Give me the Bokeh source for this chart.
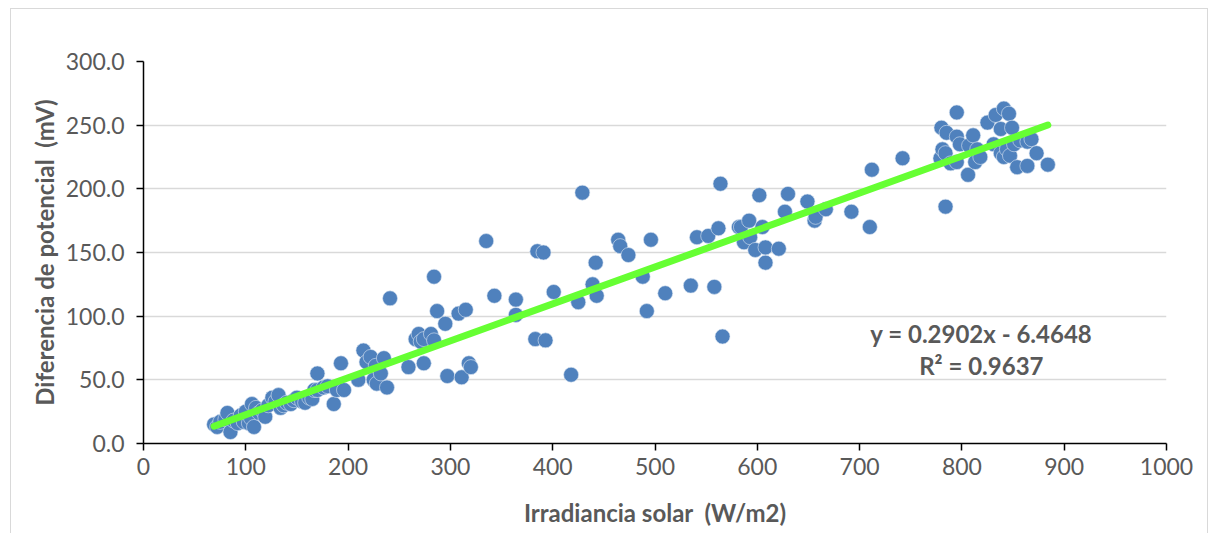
from bokeh.plotting import figure
from bokeh.models import ColumnDataSource, FixedTicker, PrintfTickFormatter, Range1d, InlineStyleSheet
from bokeh.core.properties import value
from bokeh.embed import file_html
from bokeh.resources import INLINE

irradiancia = [69, 72, 75, 80, 82, 85, 88, 92, 95, 98, 100, 103, 105, 106, 108, 110, 113, 116, 119, 122,
               126, 129, 132, 134, 137, 140, 144, 147, 150, 155, 158, 162, 165, 167, 170, 170, 176, 180, 186, 189,
               193, 196, 210, 215, 218, 222, 225, 227, 228, 232, 235, 238, 241, 259, 266, 269, 271, 274, 274, 281,
               284, 284, 287, 295, 297, 308, 311, 315, 318, 320, 335, 343, 364, 364, 383, 385, 391, 393, 401, 418,
               425, 429, 439, 442, 443, 464, 466, 474, 488, 492, 496, 510, 535, 541, 552, 558, 562, 564, 566, 582,
               584, 587, 592, 593, 598, 602, 605, 608, 608, 621, 627, 630, 649, 656, 657, 667, 692, 710, 712, 742,
               779, 780, 781, 784, 784, 785, 789, 795, 795, 795, 798, 806, 807, 811, 813, 815, 818, 825, 831, 833,
               838, 838, 841, 841, 844, 846, 847, 849, 851, 854, 857, 864, 864, 868, 873, 884]
potencial = [15, 13, 17, 19, 24, 9, 18, 16, 22, 17, 25, 16, 20, 31, 13, 28, 24, 26, 21, 30,
             36, 33, 38, 28, 30, 32, 31, 34, 36, 33, 32, 36, 35, 42, 42, 55, 44, 45, 31, 42,
             63, 42, 50, 73, 64, 68, 50, 61, 47, 55, 67, 44, 114, 60, 82, 86, 80, 63, 82, 86,
             81, 131, 104, 94, 53, 102, 52, 105, 63, 60, 159, 116, 113, 101, 82, 151, 150, 81, 119, 54,
             111, 197, 125, 142, 116, 160, 155, 148, 131, 104, 160, 118, 124, 162, 163, 123, 169, 204, 84, 170,
             170, 158, 175, 162, 152, 195, 170, 154, 142, 153, 182, 196, 190, 175, 178, 184, 182, 170, 215, 224,
             224, 248, 231, 228, 186, 244, 220, 260, 241, 221, 235, 211, 234, 242, 221, 231, 225, 252, 235, 258,
             247, 228, 225, 263, 231, 259, 226, 248, 235, 217, 238, 237, 218, 239, 228, 219]

pendiente = 0.2902
intercepto = -6.4648
r2 = 0.9637

x_ticks = [0, 100, 200, 300, 400, 500, 600, 700, 800, 900, 1000]
y_ticks = [0, 50, 100, 150, 200, 250, 300]

x_label = "Irradiancia solar\u00a0\u00a0(W/m2)"
y_label = "Diferencia de potencial\u00a0\u00a0(mV)"

border_css = InlineStyleSheet(css="""
:host::after {
  content: '';
  position: absolute;
  left: 10px; top: 8px; right: 9px; bottom: -20px;
  border: 1px solid #D9D9D9;
  pointer-events: none;
}
""")

p = figure(width=1217, height=533, output_backend="svg", toolbar_location=None,
           x_range=Range1d(0, 1000), y_range=Range1d(0, 300),
           min_border_left=143, min_border_right=51, min_border_top=61, min_border_bottom=90,
           stylesheets=[border_css])
p.outline_line_color = None
p.background_fill_color = "white"
p.border_fill_color = "white"

p.xgrid.grid_line_color = None
p.ygrid.grid_line_color = "#D9D9D9"
p.ygrid.grid_line_width = 1.3
p.ygrid.ticker = FixedTicker(ticks=y_ticks)

for ax in (p.xaxis, p.yaxis):
    ax.axis_line_color = "black"
    ax.axis_line_width = 1.5
    ax.major_tick_line_color = "black"
    ax.major_tick_line_width = 1.5
    ax.major_tick_out = 7
    ax.major_tick_in = 0
    ax.minor_tick_line_color = None
    ax.major_label_text_font = "Lato"
    ax.major_label_text_font_size = "23px"
    ax.major_label_text_color = "#595959"
    ax.axis_label_text_font = "Lato"
    ax.axis_label_text_font_style = "bold"
    ax.axis_label_text_font_size = "24px"
    ax.axis_label_text_color = "#595959"

p.xaxis.ticker = FixedTicker(ticks=x_ticks)
p.yaxis.ticker = FixedTicker(ticks=y_ticks)
p.yaxis.formatter = PrintfTickFormatter(format="%.1f")
p.xaxis.axis_label = x_label
p.yaxis.axis_label = y_label
p.xaxis.major_label_standoff = 7
p.yaxis.major_label_standoff = 12
p.xaxis.axis_label_standoff = 20
p.yaxis.axis_label_standoff = 4

src = ColumnDataSource(dict(x=irradiancia, y=potencial))
p.scatter("x", "y", source=src, size=15, fill_color="#4F81BD", line_color="#DCE6F2", line_width=0.6)

xmin, xmax = min(irradiancia), max(irradiancia)
trend = ColumnDataSource(dict(x=[xmin, xmax], y=[pendiente * xmin + intercepto, pendiente * xmax + intercepto]))
p.line("x", "y", source=trend, line_color="#66FF33", line_width=7, line_cap="round")

eq_src = ColumnDataSource(dict(
    x=[819, 819], y=[86.4, 61.3],
    t=[f"y = {pendiente:.4f}x - {abs(intercepto):.4f}", f"R² = {r2:.4f}"]))
p.text("x", "y", text="t", source=eq_src, text_align="center", text_baseline="middle",
       text_font=value("Lato"), text_font_style="bold", text_font_size="24px", text_color="#595959")

open("out.html", "w").write(file_html(p, INLINE))
